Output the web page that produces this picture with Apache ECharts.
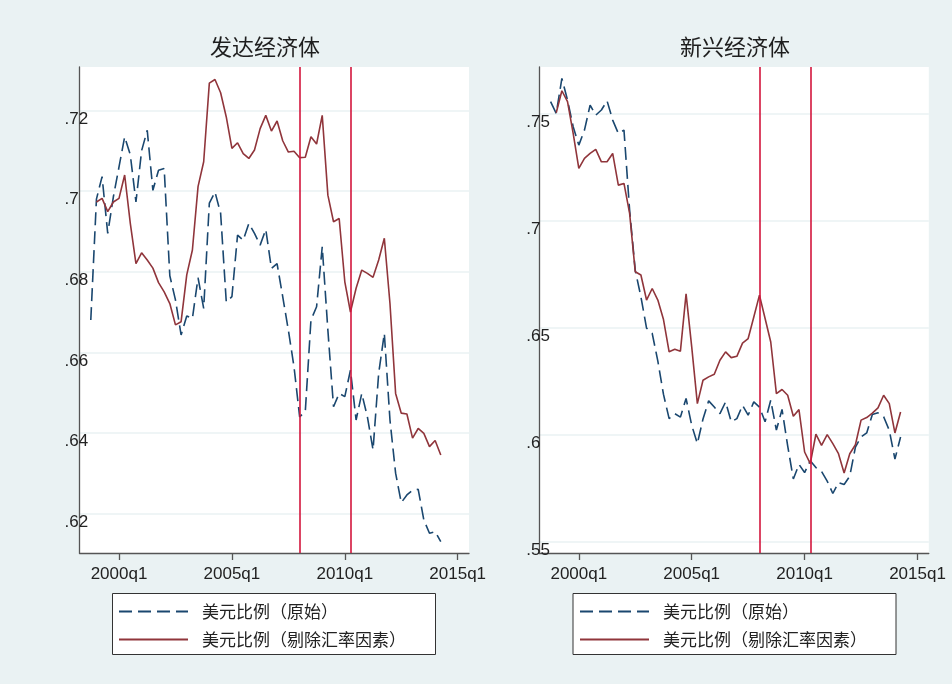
<!DOCTYPE html>
<html>
<head>
<meta charset="utf-8">
<title>美元比例</title>
<script src="https://cdn.jsdelivr.net/npm/echarts@6/dist/echarts.min.js"></script>
<style>
html, body { margin: 0; padding: 0; background: #eaf2f3; }
#chart { width: 952px; height: 684px; }
</style>
</head>
<body>
<div id="chart"></div>
<script>
// 季度（1998q4 - 2014q2）
const quarters = [
    '1998q4',
    '1999q1', '1999q2', '1999q3', '1999q4',
    '2000q1', '2000q2', '2000q3', '2000q4',
    '2001q1', '2001q2', '2001q3', '2001q4',
    '2002q1', '2002q2', '2002q3', '2002q4',
    '2003q1', '2003q2', '2003q3', '2003q4',
    '2004q1', '2004q2', '2004q3', '2004q4',
    '2005q1', '2005q2', '2005q3', '2005q4',
    '2006q1', '2006q2', '2006q3', '2006q4',
    '2007q1', '2007q2', '2007q3', '2007q4',
    '2008q1', '2008q2', '2008q3', '2008q4',
    '2009q1', '2009q2', '2009q3', '2009q4',
    '2010q1', '2010q2', '2010q3', '2010q4',
    '2011q1', '2011q2', '2011q3', '2011q4',
    '2012q1', '2012q2', '2012q3', '2012q4',
    '2013q1', '2013q2', '2013q3', '2013q4',
    '2014q1', '2014q2'
];

const seriesNames = ['美元比例（原始）', '美元比例（剔除汇率因素）'];
const panelTitles = ['发达经济体', '新兴经济体'];

// 发达经济体
const devRaw = [
    0.668,
    0.698, 0.7036, 0.6895, 0.6986,
    0.706, 0.7135, 0.709, 0.6973,
    0.710, 0.7151, 0.7002, 0.7052,
    0.7056, 0.679, 0.673, 0.6643,
    0.669, 0.6684, 0.6785, 0.6709,
    0.697, 0.6998, 0.6945, 0.6725,
    0.6738, 0.6891, 0.6878, 0.692,
    0.6895, 0.6866, 0.6905, 0.6808,
    0.682, 0.6738, 0.6655, 0.6564,
    0.644, 0.6453, 0.668, 0.6713,
    0.6862, 0.6655, 0.6465, 0.6498,
    0.649, 0.6556, 0.6432, 0.6498,
    0.644, 0.6358, 0.6548, 0.6647,
    0.6432, 0.630, 0.6227, 0.6246,
    0.6258, 0.626, 0.6184, 0.6151,
    0.6155, 0.613
];
const devAdj = [
    null,
    0.6973, 0.6982, 0.6949, 0.6973,
    0.6982, 0.704, 0.692, 0.682,
    0.6847, 0.6829, 0.6809, 0.6773,
    0.675, 0.6721, 0.6668, 0.6676,
    0.6792, 0.6854, 0.7011, 0.7073,
    0.7268, 0.7277, 0.7244, 0.7184,
    0.7106, 0.712, 0.7093, 0.7081,
    0.7102, 0.7155, 0.7188, 0.7149,
    0.7174, 0.7125, 0.7097, 0.7099,
    0.7083, 0.7084, 0.7135, 0.7117,
    0.7188, 0.699, 0.6924, 0.6932,
    0.6775, 0.670, 0.6759, 0.6804,
    0.6796, 0.6786, 0.6829, 0.6883,
    0.6721, 0.6498, 0.6449, 0.6447,
    0.6387, 0.6411, 0.6399, 0.6366,
    0.6381, 0.6345
];

// 新兴经济体
const emgRaw = [
    0.7558,
    0.7503, 0.7667, 0.7565, 0.7441,
    0.7355, 0.7425, 0.7542, 0.7495,
    0.7519, 0.7562, 0.7472, 0.741,
    0.7425, 0.7051, 0.677, 0.6646,
    0.650, 0.6475, 0.6346, 0.619,
    0.6077, 0.610, 0.6084, 0.6171,
    0.6046, 0.596, 0.6075, 0.616,
    0.6131, 0.610, 0.6155, 0.6062,
    0.6077, 0.6139, 0.6093, 0.6155,
    0.6131, 0.6062, 0.6163, 0.6023,
    0.612, 0.595, 0.5795, 0.5863,
    0.5825, 0.588, 0.5848, 0.583,
    0.5785, 0.5727, 0.5778, 0.5769,
    0.5808, 0.5944, 0.5991, 0.601,
    0.6096, 0.6104, 0.6086, 0.6022,
    0.5888, 0.5991
];
const emgAdj = [
    null,
    0.7506, 0.7609, 0.7558, 0.741,
    0.7246, 0.7293, 0.7316, 0.7335,
    0.7277, 0.7277, 0.7316, 0.7168,
    0.7176, 0.7036, 0.6763, 0.6748,
    0.6631, 0.6685, 0.6631, 0.654,
    0.6389, 0.6401, 0.6392, 0.666,
    0.6412, 0.6147, 0.6256, 0.6272,
    0.6284, 0.635, 0.6389, 0.6362,
    0.6368, 0.643, 0.6451, 0.6552,
    0.6654, 0.6545, 0.6435, 0.6194,
    0.6213, 0.6186, 0.6088, 0.6119,
    0.5921, 0.5867, 0.6004, 0.5952,
    0.6002, 0.596, 0.5913, 0.5823,
    0.5913, 0.5955, 0.607, 0.6082,
    0.6103, 0.6127, 0.6186, 0.6147,
    0.601, 0.6108
];

// 竖线（金融危机 / 复苏）
const eventLines = ['2008q1', '2010q2'];
// 刻度
const xTickLabels = ['2000q1', '2005q1', '2010q1', '2015q1'];
const devYTicks = [0.62, 0.64, 0.66, 0.68, 0.70, 0.72];
const emgYTicks = [0.55, 0.60, 0.65, 0.70, 0.75];

// 季度 -> 序号（2000q1 = 0）
const parseQ = (s) => (parseInt(s.slice(0, 4)) - 2000) * 4 + parseInt(s.slice(5)) - 1;
const fmtQ = (v) => (2000 + Math.floor(v / 4)) + 'q' + (v % 4 + 1);
const fmtY = (v) => String(+(+v).toFixed(2)).replace(/^0/, '');

const cjk = "'Noto Sans CJK SC', sans-serif";
const latin = "'Liberation Sans', Arial, sans-serif";
const blue = '#1a476f';
const maroon = '#90353b';
const vline = '#d3163d';

const grids = [
    { left: 79.5, top: 67, width: 389.5, height: 486 },
    { left: 539.3, top: 67, width: 389.5, height: 486 }
];

const makeX = (idx) => ({
    type: 'value',
    gridIndex: idx,
    min: parseQ('1998q2'),
    max: parseQ('2015q3'),
    axisLine: { show: true, onZero: false, lineStyle: { color: '#555', width: 1.3 } },
    axisTick: { show: true, length: 7, customValues: xTickLabels.map(parseQ), lineStyle: { color: '#555', width: 1.3 } },
    axisLabel: {
        customValues: xTickLabels.map(parseQ),
        formatter: fmtQ,
        margin: 13,
        verticalAlign: 'top',
        fontSize: 17,
        fontFamily: latin,
        color: '#222'
    },
    splitLine: { show: false }
});

const makeY = (idx, min, max, ticks, margin) => ({
    type: 'value',
    gridIndex: idx,
    min: min,
    max: max,
    axisLine: { show: true, onZero: false, lineStyle: { color: '#555', width: 1.3 } },
    axisTick: { show: false, customValues: ticks },
    axisLabel: {
        customValues: ticks,
        formatter: fmtY,
        align: 'left',
        verticalAlign: 'top',
        margin: margin,
        fontSize: 17,
        fontFamily: latin,
        color: '#222'
    },
    splitLine: { show: true, lineStyle: { color: '#eaf2f3', width: 1.5 } }
});

const makeLine = (name, values, idx, dashed) => ({
    name: name,
    type: 'line',
    xAxisIndex: idx,
    yAxisIndex: idx,
    data: quarters.map((q, k) => [parseQ(q), values[k]]),
    symbol: 'none',
    color: dashed ? blue : maroon,
    lineStyle: { color: dashed ? blue : maroon, width: 1.6, type: dashed ? [13, 6] : 'solid' },
    animation: false
});

const addEvents = (s) => {
    s.markLine = {
        silent: true,
        symbol: 'none',
        animation: false,
        label: { show: false },
        lineStyle: { color: vline, width: 1.6, type: 'solid' },
        data: eventLines.map(q => ({ xAxis: parseQ(q) }))
    };
    return s;
};

// 图例：只画线，不画圆点
const makeLegend = (left) => ({
    orient: 'vertical',
    left: left,
    top: 603,
    padding: 0,
    itemWidth: 69,
    itemHeight: 17,
    itemGap: 11,
    selectedMode: false,
    data: seriesNames,
    itemStyle: { opacity: 0 },
    textStyle: { fontSize: 17, fontFamily: cjk, color: '#222', padding: [0, 0, 0, 9] }
});

const makeBox = (x) => ({
    type: 'rect',
    left: x,
    top: 593,
    z: -1,
    shape: { width: 323, height: 61 },
    style: { fill: '#fff', stroke: '#333', lineWidth: 1 }
});

const chartDom = document.getElementById('chart');
const myChart = echarts.init(chartDom, null, { renderer: 'canvas' });

const option = {
    backgroundColor: '#eaf2f3',
    animation: false,
    title: [
        { text: panelTitles[0], left: 265, top: 36, textAlign: 'center', padding: 0,
          textStyle: { fontSize: 22, fontWeight: 'normal', fontFamily: cjk, color: '#1e1e1e' } },
        { text: panelTitles[1], left: 735, top: 36, textAlign: 'center', padding: 0,
          textStyle: { fontSize: 22, fontWeight: 'normal', fontFamily: cjk, color: '#1e1e1e' } }
    ],
    grid: grids.map(g => Object.assign({ show: true, backgroundColor: '#fff', borderWidth: 0 }, g)),
    xAxis: [makeX(0), makeX(1)],
    yAxis: [
        makeY(0, 0.6102, 0.7308, devYTicks, 15),
        makeY(1, 0.5449, 0.772, emgYTicks, 13)
    ],
    legend: [makeLegend(118), makeLegend(579)],
    graphic: [makeBox(112), makeBox(572.5)],
    series: [
        makeLine(seriesNames[0], devRaw, 0, true),
        addEvents(makeLine(seriesNames[1], devAdj, 0, false)),
        makeLine(seriesNames[0], emgRaw, 1, true),
        addEvents(makeLine(seriesNames[1], emgAdj, 1, false))
    ]
};

myChart.setOption(option);
</script>
</body>
</html>
